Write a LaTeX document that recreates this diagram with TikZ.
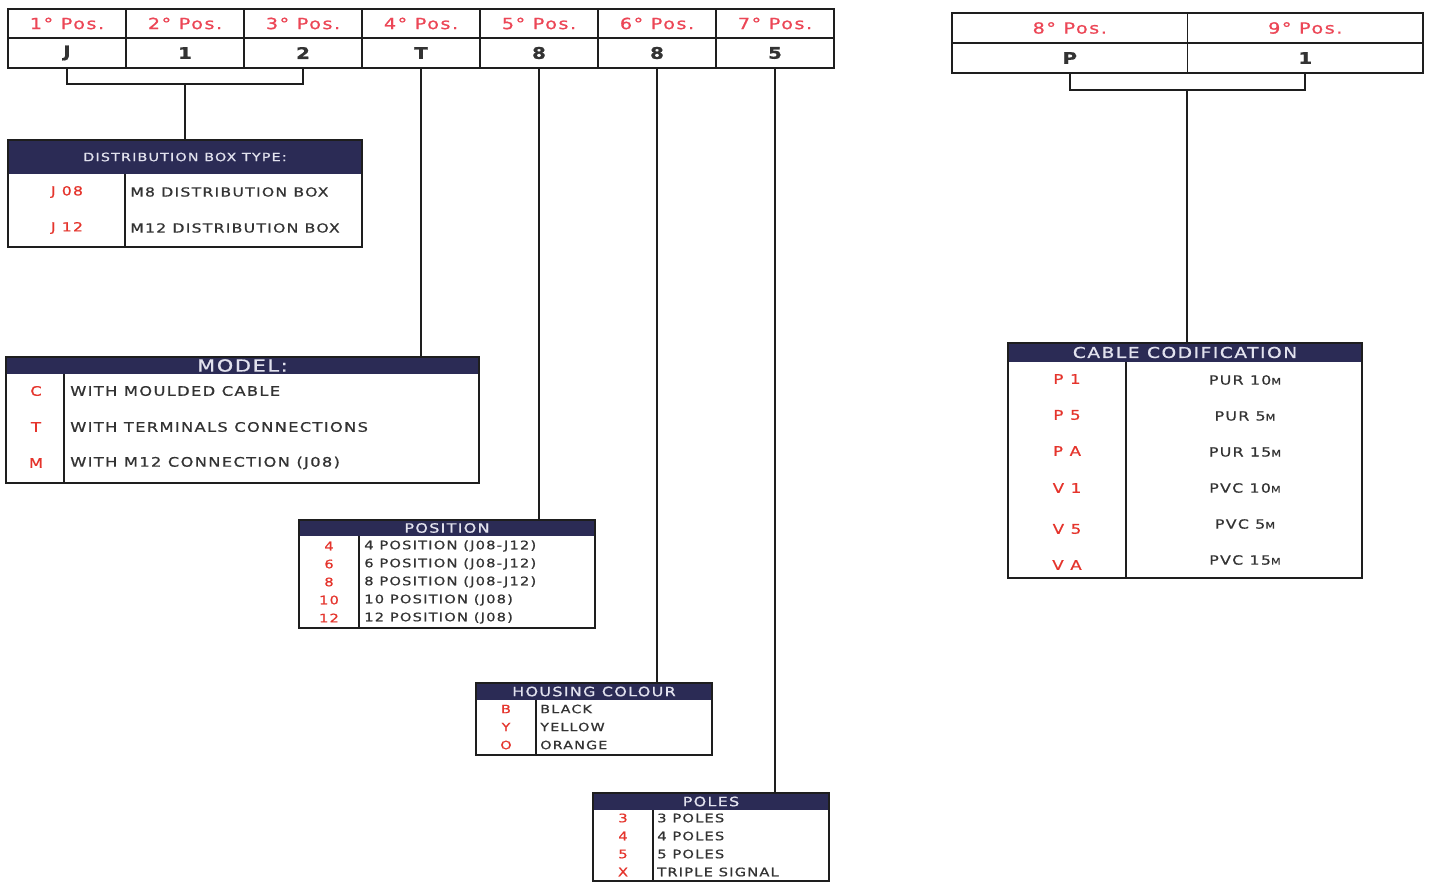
\documentclass[tikz,border=0pt]{standalone}
\usepackage{fontspec}
\setmainfont{DejaVu Sans}[FakeStretch=1.25, LetterSpace=10, FakeBold=0.8]
\definecolor{navy}{HTML}{2B2B55}
\definecolor{hdrtext}{HTML}{E2E2EE}
\definecolor{codered}{HTML}{E5342C}
\definecolor{posred}{HTML}{EC4656}
\definecolor{bodytext}{HTML}{333333}
\definecolor{linec}{HTML}{1E1E1E}
\newcommand\fs[1]{\fontsize{#1}{#1}\selectfont}
\newcommand\sm{\fontsize{6.8}{7}\selectfont}
% #1 name, #2 x1, #3 y1, #4 x2, #5 y2, #6 header bottom y, #7 divider x, #8 header text, #9 header font size
\newcommand\mkbox[9]{%
  \node[hdr, minimum width={(#4-#2)*0.75pt}, minimum height={(#6-#3)*0.75pt}, font=\fs{#9}] (#1h) at ({(#2+#4)/2},{(#3+#6)/2}) {#8};
  \node[frame, minimum width={(#4-#2)*0.75pt}, minimum height={(#5-#3)*0.75pt}] (#1) at ({(#2+#4)/2},{(#3+#5)/2}) {};
  \coordinate (#1d) at (#7,#5);
  \draw[ln] (#1h.south -| #1d) -- (#1d);
}
\begin{document}
\begin{tikzpicture}[x=0.75pt,y=-0.75pt,
  ln/.style={line width=1.4pt, draw=linec},
  frame/.style={draw=linec, line width=1.4pt, inner sep=0pt, outer sep=0pt},
  hdr/.style={fill=navy, text=hdrtext, inner sep=0pt, outer sep=0pt},
  code/.style={text=codered, inner sep=0pt},
  txt/.style={text=bodytext, anchor=west, inner sep=0pt},
  cellh/.style={frame, minimum height=21.75pt, text=posred, font=\fs{11.5}},
  cellv/.style={frame, minimum height=22.5pt, text=bodytext, font=\bfseries\fs{12}},
]
\useasboundingbox[fill=white] (0,0) rectangle (1430,882);

% ---- top code table (positions 1-7)
\node[cellh, minimum width=88.5pt] (h1) at (67,23.5) {1° Pos.};
\node[cellh, minimum width=88.5pt] (h2) at (185,23.5) {2° Pos.};
\node[cellh, minimum width=88.5pt] (h3) at (303,23.5) {3° Pos.};
\node[cellh, minimum width=88.5pt] (h4) at (421,23.5) {4° Pos.};
\node[cellh, minimum width=88.5pt] (h5) at (539,23.5) {5° Pos.};
\node[cellh, minimum width=88.5pt] (h6) at (657,23.5) {6° Pos.};
\node[cellh, minimum width=88.5pt] (h7) at (775,23.5) {7° Pos.};
\node[cellv, minimum width=88.5pt] (v1) at (67,53) {J};
\node[cellv, minimum width=88.5pt] (v2) at (185,53) {1};
\node[cellv, minimum width=88.5pt] (v3) at (303,53) {2};
\node[cellv, minimum width=88.5pt] (v4) at (421,53) {T};
\node[cellv, minimum width=88.5pt] (v5) at (539,53) {8};
\node[cellv, minimum width=88.5pt] (v6) at (657,53) {8};
\node[cellv, minimum width=88.5pt] (v7) at (775,53) {5};

% ---- top code table (positions 8-9)
\node[cellh, minimum width=176.6pt, minimum height=22.5pt] (h8) at (1069.75,28) {8° Pos.};
\node[cellh, minimum width=176.6pt, minimum height=22.5pt] (h9) at (1305.25,28) {9° Pos.};
\node[cellv, minimum width=176.6pt] (v8) at (1069.75,58) {P};
\node[cellv, minimum width=176.6pt] (v9) at (1305.25,58) {1};

% ---- distribution box type
\mkbox{dist}{8}{140}{362}{247}{174}{125}{DISTRIBUTION BOX TYPE:}{8.6}
\node[code, font=\fs{9.4}] (d1c) at (67,192) {J 08};
\node[code, font=\fs{9.4}] (d2c) at (67,228) {J 12};
\node[txt, font=\fs{9.4}] (d1t) at (130,192) {M8 DISTRIBUTION BOX};
\node[txt, font=\fs{9.4}] (d2t) at (130,228) {M12 DISTRIBUTION BOX};

% ---- model
\mkbox{model}{6}{357}{479}{483}{374}{64}{MODEL:}{12.5}
\node[code, font=\fs{9.8}] (m1c) at (36,391) {C};
\node[code, font=\fs{9.8}] (m2c) at (36,427) {T};
\node[code, font=\fs{9.8}] (m3c) at (36,463) {M};
\node[txt, font=\fs{9.8}] (m1t) at (70,391) {WITH MOULDED CABLE};
\node[txt, font=\fs{9.8}] (m2t) at (70,427) {WITH TERMINALS CONNECTIONS};
\node[txt, font=\fs{9.8}] (m3t) at (70,463) {WITH M12 CONNECTION (J08)};

% ---- position
\mkbox{pos}{299}{520}{595}{628}{536}{359}{POSITION}{9.6}
\node[code, font=\fs{8.8}] (p1c) at (329,546) {4};
\node[code, font=\fs{8.8}] (p2c) at (329,564) {6};
\node[code, font=\fs{8.8}] (p3c) at (329,582) {8};
\node[code, font=\fs{8.8}] (p4c) at (329,600) {10};
\node[code, font=\fs{8.8}] (p5c) at (329,618) {12};
\node[txt, font=\fs{8.8}] (p1t) at (364,546) {4 POSITION (J08-J12)};
\node[txt, font=\fs{8.8}] (p2t) at (364,564) {6 POSITION (J08-J12)};
\node[txt, font=\fs{8.8}] (p3t) at (364,582) {8 POSITION (J08-J12)};
\node[txt, font=\fs{8.8}] (p4t) at (364,600) {10 POSITION (J08)};
\node[txt, font=\fs{8.8}] (p5t) at (364,618) {12 POSITION (J08)};

% ---- housing colour
\mkbox{hous}{476}{683}{712}{755}{700}{536}{HOUSING COLOUR}{9.6}
\node[code, font=\fs{8.6}] (c1c) at (506,709) {B};
\node[code, font=\fs{8.6}] (c2c) at (506,727) {Y};
\node[code, font=\fs{8.6}] (c3c) at (506,745) {O};
\node[txt, font=\fs{8.6}] (c1t) at (540,709) {BLACK};
\node[txt, font=\fs{8.6}] (c2t) at (540,727) {YELLOW};
\node[txt, font=\fs{8.6}] (c3t) at (540,745) {ORANGE};

% ---- poles
\mkbox{poles}{593}{793}{829}{881}{810}{653}{POLES}{9.6}
\node[code, font=\fs{8.8}] (o1c) at (623,818) {3};
\node[code, font=\fs{8.8}] (o2c) at (623,836) {4};
\node[code, font=\fs{8.8}] (o3c) at (623,854) {5};
\node[code, font=\fs{8.8}] (o4c) at (623,872) {X};
\node[txt, font=\fs{8.8}] (o1t) at (657,818) {3 POLES};
\node[txt, font=\fs{8.8}] (o2t) at (657,836) {4 POLES};
\node[txt, font=\fs{8.8}] (o3t) at (657,854) {5 POLES};
\node[txt, font=\fs{8.8}] (o4t) at (657,872) {TRIPLE SIGNAL};

% ---- cable codification
\mkbox{cable}{1008}{343}{1362}{578}{362}{1126}{CABLE CODIFICATION}{11.2}
\node[code, font=\fs{10}] (k1c) at (1067,379) {P 1};
\node[code, font=\fs{10}] (k2c) at (1067,415) {P 5};
\node[code, font=\fs{10}] (k3c) at (1067,451) {P A};
\node[code, font=\fs{10}] (k4c) at (1067,488) {V 1};
\node[code, font=\fs{10}] (k5c) at (1067,529) {V 5};
\node[code, font=\fs{10}] (k6c) at (1067,565) {V A};
\node[text=bodytext, inner sep=0pt, font=\fs{9.5}] (k1t) at (1245,380) {PUR 10{\sm M}};
\node[text=bodytext, inner sep=0pt, font=\fs{9.5}] (k2t) at (1245,416) {PUR 5{\sm M}};
\node[text=bodytext, inner sep=0pt, font=\fs{9.5}] (k3t) at (1245,452) {PUR 15{\sm M}};
\node[text=bodytext, inner sep=0pt, font=\fs{9.5}] (k4t) at (1245,488) {PVC 10{\sm M}};
\node[text=bodytext, inner sep=0pt, font=\fs{9.5}] (k5t) at (1245,524) {PVC 5{\sm M}};
\node[text=bodytext, inner sep=0pt, font=\fs{9.5}] (k6t) at (1245,560) {PVC 15{\sm M}};

% ---- connectors
\coordinate (bl) at (185,84);
\draw[ln] (v1.south) |- (bl) -| (v3.south);
\draw[ln] (bl) -- (dist.north);
\coordinate (br) at (1187,90);
\draw[ln] (v8.south) |- (br) -| (v9.south);
\draw[ln] (br) -- (br |- cable.north);
\draw[ln] (v4.south) -- (v4.south |- model.north);
\draw[ln] (v5.south) -- (v5.south |- pos.north);
\draw[ln] (v6.south) -- (v6.south |- hous.north);
\draw[ln] (v7.south) -- (v7.south |- poles.north);
\end{tikzpicture}
\end{document}
